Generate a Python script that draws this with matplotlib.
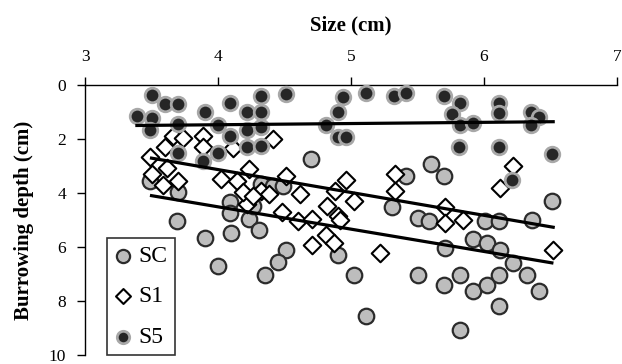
import matplotlib.pyplot as plt

plt.rcParams['font.family'] = ['Liberation Serif', 'DejaVu Serif']

# values
sc_size = [3.49, 3.70, 4.09, 4.09, 3.69, 4.23, 4.70, 4.32, 4.41, 4.49, 5.41, 5.31,
           5.60, 5.70, 6.51, 3.90, 4.10, 4.00, 4.31, 4.51, 4.45, 4.35, 4.90, 5.02,
           5.11, 5.50, 5.59, 6.01, 6.11, 6.36, 5.92, 6.02, 6.12, 6.22, 5.71, 5.50,
           5.70, 5.82, 5.92, 6.02, 6.11, 6.32, 6.41, 6.11, 5.82, 4.26]
sc_depth = [3.55, 3.96, 4.32, 4.76, 5.05, 4.95, 2.75, 3.66, 3.74, 3.74, 3.37, 4.51,
            2.93, 3.37, 4.29, 5.68, 5.49, 6.70, 5.38, 6.12, 6.56, 7.03, 6.30, 7.03,
            8.57, 4.91, 5.05, 5.05, 5.05, 5.02, 5.71, 5.86, 6.12, 6.59, 6.04, 7.03,
            7.40, 7.03, 7.62, 7.40, 7.03, 7.03, 7.62, 8.17, 9.08, 4.47]

s1_size = [3.66, 3.60, 3.74, 3.49, 3.62, 3.50, 3.59, 3.70, 3.89, 3.89, 4.11, 4.02,
           4.14, 4.23, 4.22, 4.19, 4.41, 4.51, 4.32, 4.62, 4.96, 5.02, 4.82, 4.38,
           4.88, 5.33, 5.33, 4.48, 4.90, 6.22, 6.12, 4.71, 4.81, 4.87, 4.92, 4.60,
           4.26, 4.71, 5.22, 5.71, 5.84, 5.71, 6.52]
s1_depth = [1.90, 2.31, 1.98, 2.67, 3.08, 3.30, 3.70, 3.55, 1.90, 2.31, 2.34, 3.48,
            3.55, 3.11, 4.40, 3.96, 2.01, 3.37, 3.92, 4.03, 3.52, 4.29, 4.47, 4.03,
            3.92, 3.30, 3.92, 4.69, 4.87, 3.00, 3.81, 5.93, 5.57, 5.86, 5.02, 5.05,
            4.10, 4.95, 6.23, 4.51, 5.02, 5.13, 6.12]

s5_size = [3.50, 3.60, 3.70, 3.39, 3.50, 3.49, 3.70, 3.90, 4.09, 4.22, 4.00, 4.09,
           4.22, 3.70, 4.00, 3.89, 4.22, 4.32, 4.32, 4.51, 4.32, 4.32, 4.94, 4.90,
           4.81, 4.90, 4.96, 5.11, 5.32, 5.41, 5.70, 5.82, 5.76, 5.82, 5.92, 6.11,
           6.11, 6.35, 6.41, 6.35, 5.81, 6.11, 6.51, 6.21]
s5_depth = [0.37, 0.70, 0.70, 1.14, 1.21, 1.65, 1.43, 0.99, 0.66, 0.99, 1.47, 1.90,
            1.65, 2.53, 2.53, 2.82, 2.31, 0.40, 0.99, 0.33, 1.54, 2.27, 0.44, 0.99,
            1.50, 1.94, 1.94, 0.29, 0.40, 0.29, 0.40, 0.66, 1.06, 1.50, 1.39, 0.66,
            1.03, 0.99, 1.17, 1.50, 2.31, 2.31, 2.56, 3.52]

# trend lines (ends)
sc_fit_x, sc_fit_y = [3.50, 6.51], [4.10, 6.59]
s1_fit_x, s1_fit_y = [3.50, 6.52], [2.71, 5.27]
s5_fit_x, s5_fit_y = [3.39, 6.52], [1.50, 1.36]

fig = plt.figure(figsize=(6.22, 3.64), dpi=100)
ax = fig.add_axes([0.1367, 0.025, 0.8553, 0.7415])

ax.scatter(sc_size, sc_depth, s=125, marker='o', facecolor='#bdbdbd',
           edgecolor='#2b2b2b', linewidth=1.6, label='SC', zorder=2)
ax.scatter(s1_size, s1_depth, s=80, marker='D', facecolor='white',
           edgecolor='black', linewidth=1.5, label='S1', zorder=3)
ax.scatter(s5_size, s5_depth, s=110, marker='o', facecolor='#262626',
           edgecolor='#a8a8a8', linewidth=2.0, label='S5', zorder=4)

for fx, fy in [(sc_fit_x, sc_fit_y), (s1_fit_x, s1_fit_y), (s5_fit_x, s5_fit_y)]:
    ax.plot(fx, fy, color='black', linewidth=2.3, zorder=5)

ax.set_xlim(3, 7)
ax.set_ylim(10, 0)
ax.set_xticks([3, 4, 5, 6, 7])
ax.set_yticks([0, 2, 4, 6, 8, 10])
ax.xaxis.tick_top()
ax.xaxis.set_label_position('top')
ax.tick_params(axis='x', direction='out', length=5.5, width=1, labelsize=12.5, pad=9)
ax.tick_params(axis='y', direction='out', length=5.5, width=1, labelsize=12.5, pad=8)

for side in ['right', 'bottom']:
    ax.spines[side].set_visible(False)
for side in ['top', 'left']:
    ax.spines[side].set_linewidth(1.0)

ax.set_xlabel('Size (cm)', fontsize=15, fontweight='bold', labelpad=13)
ax.set_ylabel('Burrowing depth (cm)', fontsize=15, fontweight='bold', labelpad=11)

leg = ax.legend(loc='lower left', bbox_to_anchor=(0.041, 0.0), borderaxespad=0,
                fontsize=17, frameon=True, fancybox=False, edgecolor='black',
                handletextpad=0.25, handlelength=0.8, labelspacing=0.8,
                borderpad=0.3, markerscale=0.85)
leg.get_frame().set_linewidth(1.2)

fig.savefig('out.png', dpi=100)
